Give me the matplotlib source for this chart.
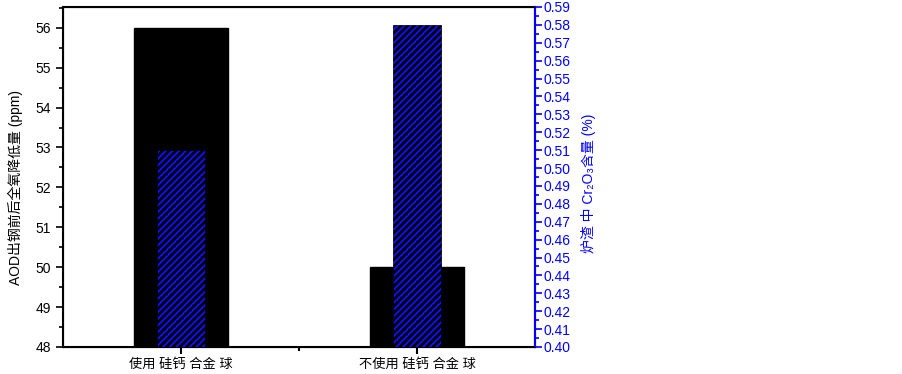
import matplotlib
matplotlib.use("Agg")
import matplotlib.pyplot as plt
from matplotlib.ticker import MultipleLocator

plt.rcParams['font.family'] = ['Liberation Sans', 'DejaVu Sans', 'Noto Sans CJK SC']
plt.rcParams['hatch.linewidth'] = 2.0

categories = ['使用 硅钙 合金 球', '不使用 硅钙 合金 球']
oxygen_drop = [56, 50]      # ppm, left axis
cr2o3 = [0.51, 0.58]        # %, right axis

positions = [1, 2]

fig = plt.figure(figsize=(9.03, 3.74), dpi=100)
ax = fig.add_axes([0.0698, 0.0722, 0.5227, 0.9091])

ax.bar(positions, oxygen_drop, width=0.4, color='black', edgecolor='black', zorder=2)
ax.set_xlim(0.5, 2.5)
ax.set_ylim(48, 56.52)
ax.yaxis.set_major_locator(MultipleLocator(1))
ax.yaxis.set_minor_locator(MultipleLocator(0.5))
ax.set_xticks(positions)
ax.set_xticklabels(categories, fontsize=9.5)
ax.set_xticks([1.5], minor=True)
ax.tick_params(axis='x', which='major', direction='out', length=5, width=1.5, pad=3)
ax.tick_params(axis='x', which='minor', direction='out', length=3, width=1.5)
ax.tick_params(axis='y', which='major', direction='out', length=5, width=1.2, labelsize=10)
ax.tick_params(axis='y', which='minor', direction='out', length=3, width=1.2)
ax.set_ylabel('AOD出钢前后全氧降低量 (ppm)', fontsize=10)
ax.yaxis.set_label_coords(-0.085, 0.47)
for s in ax.spines.values():
    s.set_linewidth(1.5)

ax2 = ax.twinx()
ax2.bar(positions, cr2o3, width=0.2, color='#1010ff', edgecolor='black',
        linewidth=0.5, hatch='/////', zorder=3)
ax2.set_ylim(0.40, 0.59)
ax2.yaxis.set_major_locator(MultipleLocator(0.01))
ax2.yaxis.set_minor_locator(MultipleLocator(0.005))
ax2.yaxis.set_major_formatter(plt.FormatStrFormatter('%.2f'))
ax2.tick_params(axis='y', which='major', direction='out', length=5, width=1.2,
                colors='blue', labelsize=10, pad=1)
ax2.tick_params(axis='y', which='minor', direction='out', length=3, width=1.2, colors='blue')
ax2.spines['right'].set_color('blue')
ax2.spines['right'].set_linewidth(1.5)
ax2.set_ylabel('炉渣 中 Cr₂O₃含量 (%)', color='blue', fontsize=10)
ax2.yaxis.set_label_coords(1.098, 0.48)

fig.savefig('out.png', dpi=100)
